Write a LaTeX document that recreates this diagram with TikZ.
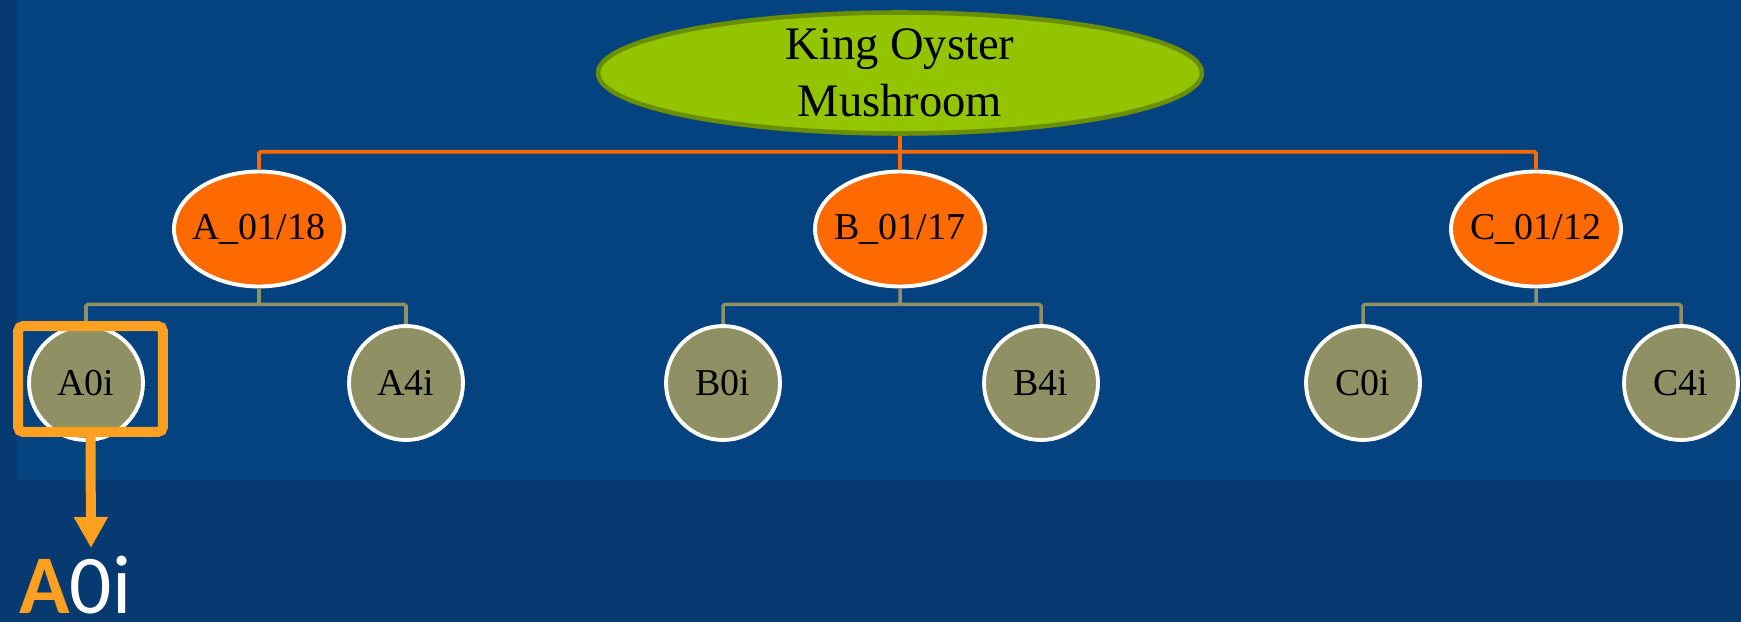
\documentclass[tikz,border=0pt]{standalone}
\usepackage{fontspec}
\setmainfont{Liberation Serif}
\newfontfamily\capfont{Carlito}
\usetikzlibrary{arrows.meta, shapes.geometric}
\definecolor{cnavy}{HTML}{073A70}
\definecolor{cpanel}{HTML}{054280}
\definecolor{clime}{HTML}{93C400}
\definecolor{climedark}{HTML}{6A8F00}
\definecolor{corange}{HTML}{FF6A00}
\definecolor{colive}{HTML}{8F9063}
\definecolor{camber}{HTML}{FFA020}
\tikzset{
  rootnode/.style={ellipse, draw=climedark, fill=clime, line width=2.6pt, inner xsep=0pt, inner ysep=-3pt,
    minimum width=12.08cm, minimum height=2.42cm, align=center, font=\fontsize{26.5}{32.4}\selectfont},
  batch/.style={ellipse, draw=white, fill=corange, line width=2.2pt, inner xsep=-0.15cm, inner ysep=0pt,
    minimum width=3.4cm, minimum height=2.3cm, font=\fontsize{21.6}{26}\selectfont},
  sample/.style={circle, draw=white, fill=colive, line width=2.2pt, inner sep=0pt, minimum size=2.28cm,
    font=\fontsize{21.6}{26}\selectfont},
  obus/.style={draw=corange, line width=2.2pt, rounded corners=1pt},
  gbus/.style={draw=colive, line width=2pt, rounded corners=1pt},
  hlbox/.style={draw=camber, line width=0.2cm, rounded corners=3pt, minimum width=2.9cm, minimum height=2.12cm},
  hlarrow/.style={-{Triangle[width=0.64cm, length=0.62cm]}, draw=camber, fill=camber, line width=0.2cm},
  caption/.style={font=\capfont\fontsize{47.5}{52}\selectfont, text=white, inner sep=0pt, anchor=base west},
}

\begin{document}
\begin{tikzpicture}[x=0.02cm, y=-0.02cm]
  % background
  \fill[cnavy] (0,0) rectangle (1741,622);
  \fill[cpanel] (17,0) rectangle (1741,480);
  \useasboundingbox (0,0) rectangle (1741,622);
  % tree
  \node[rootnode] (root) at (900,73) {King Oyster\\Mushroom};
  \node[batch] (ba) at (259,229) {A\_01/18};
  \node[batch] (bb) at (900,229) {B\_01/17};
  \node[batch] (bc) at (1536,229) {C\_01/12};
  \node[sample] (a0) at (86,383) {A0i};
  \node[sample] (a4) at (406,383) {A4i};
  \node[sample] (b0) at (723,383) {B0i};
  \node[sample] (b4) at (1041,383) {B4i};
  \node[sample] (c0) at (1363,383) {C0i};
  \node[sample] (c4) at (1681,383) {C4i};
  \draw[obus] (root.south) -- ++(0,16) coordinate (rb) -| (ba.north);
  \draw[obus] (rb) -| (bc.north);
  \draw[obus] (rb) -- (bb.north);
  \draw[gbus] (ba.south) -- ++(0,16) coordinate (abus) -| (a0.north);
  \draw[gbus] (abus) -| (a4.north);
  \draw[gbus] (bb.south) -- ++(0,16) coordinate (bbus) -| (b0.north);
  \draw[gbus] (bbus) -| (b4.north);
  \draw[gbus] (bc.south) -- ++(0,16) coordinate (cbus) -| (c0.north);
  \draw[gbus] (cbus) -| (c4.north);
  % highlight of A0i
  \node[hlbox] (hl) at (90.5,379) {};
  \coordinate (tip) at (91,548);
  \draw[hlarrow] (hl.south) -- (tip);
  \node[caption] (cap) at (19,613) {\textcolor{camber}{\bfseries A}0i};
\end{tikzpicture}
\end{document}
